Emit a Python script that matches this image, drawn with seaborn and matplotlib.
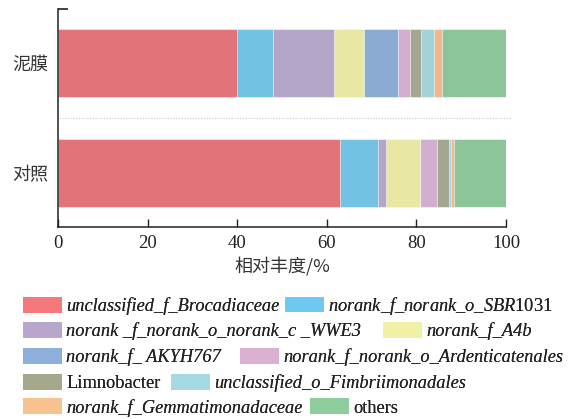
import numpy as np
import pandas as pd
import seaborn as sns
import matplotlib
matplotlib.use("Agg")
import matplotlib.pyplot as plt
from matplotlib.patches import Patch

# ---- data ----
samples = ["泥膜", "对照"]
taxa = [
    "unclassified_f_Brocadiaceae",
    "norank_f_norank_o_SBR1031",
    "norank _f_norank_o_norank_c _WWE3",
    "norank_f_A4b",
    "norank_f_ AKYH767",
    "norank_f_norank_o_Ardenticatenales",
    "Limnobacter",
    "unclassified_o_Fimbriimonadales",
    "norank_f_Gemmatimonadaceae",
    "others",
]
mud_values = [40.0, 7.9, 13.8, 6.5, 7.6, 2.7, 2.6, 2.8, 1.8, 14.3]
ctrl_values = [63.0, 8.4, 1.9, 7.4, 0.0, 3.9, 2.7, 0.45, 0.6, 11.65]
legend_labels = [
    "unclassified_f_Brocadiaceae",
    r"$\mathit{norank\_f\_norank\_o\_SBR}$1031",
    "norank _f_norank_o_norank_c _WWE3",
    "norank_f_A4b",
    "norank_f_ AKYH767",
    "norank_f_norank_o_Ardenticatenales",
    "Limnobacter",
    "unclassified_o_Fimbriimonadales",
    "norank_f_Gemmatimonadaceae",
    "others",
]
label_italic = [True, False, True, True, True, True, False, True, True, False]
xticks = [0, 20, 40, 60, 80, 100]
xlabel = "相对丰度/%"

bar_colors = ["#E27378", "#74C2E3", "#B4A6C8", "#E8E8A2", "#8BAAD2",
              "#D4AECE", "#A4A78F", "#A2D3DB", "#F0B88A", "#8BC598"]
leg_colors = ["#F5787C", "#6DC9EF", "#B8A7CB", "#F0F0A6", "#8DAFDC",
              "#DBB0D3", "#A6A88E", "#A5DAE3", "#F8C290", "#8DCC9B"]

# ---- style ----
sns.set_style("white")
plt.rcParams["font.family"] = ["Liberation Serif", "Noto Sans CJK SC"]
plt.rcParams["mathtext.fontset"] = "custom"
plt.rcParams["mathtext.it"] = "Liberation Serif:italic"
plt.rcParams["mathtext.rm"] = "Liberation Serif"

W, H = 576, 419
fig = plt.figure(figsize=(W / 100, H / 100), dpi=100)
ax = fig.add_axes([58 / W, 1 - 227 / H, (506 - 58) / W, (227 - 9) / H])

df = pd.DataFrame({"sample": samples})
vals = np.array([mud_values, ctrl_values])
cum = np.cumsum(vals, axis=1)
for i in reversed(range(len(taxa))):
    df["cum"] = cum[:, i]
    sns.barplot(data=df, x="cum", y="sample", orient="h", color=bar_colors[i],
                saturation=1, width=0.61, edgecolor="white", linewidth=0.4, ax=ax)

ax.set_xlim(0, 100)
ax.set_ylim(1.49, -0.49)
ax.set_xticks(xticks)
ax.set_xticklabels([str(t) for t in xticks], fontsize=13.5, color="#222222")
ax.set_yticks([0, 1])
ax.set_yticklabels(samples, family="Noto Sans CJK SC", fontsize=13, color="#333333")
ax.set_yticks([-0.49], minor=True)
ax.tick_params(axis="x", bottom=True, direction="in", length=6, width=1,
               color="#222222", pad=6)
ax.tick_params(axis="y", which="major", left=True, length=0, pad=7)
ax.tick_params(axis="y", which="minor", left=True, direction="in", length=7,
               width=1.2, color="#222222")
ax.set_xlabel(xlabel, family="Noto Sans CJK SC", fontsize=13, color="#333333", labelpad=4)
ax.set_ylabel("")
for s in ["top", "right"]:
    ax.spines[s].set_visible(False)
for s in ["left", "bottom"]:
    ax.spines[s].set_color("#222222")
    ax.spines[s].set_linewidth(1.1)

ax.axhline(0.5, xmin=0.003, xmax=1.013, clip_on=False, ls=(0, (1, 1.5)),
           color="#cccccc", lw=0.8)

# ---- legend: each entry placed individually ----
positions = [(23, 306), (285, 306), (23, 331), (383, 331), (23, 357),
             (240, 357), (23, 383), (171, 383), (23, 407.5), (310, 407.5)]
fs = 13.2
for i, (px, py) in enumerate(positions):
    h = Patch(facecolor=leg_colors[i], edgecolor="none")
    leg = fig.legend(handles=[h], labels=[legend_labels[i]], loc="center left",
                     bbox_to_anchor=(px / W, 1 - py / H), frameon=False,
                     borderpad=0, borderaxespad=0, fontsize=fs,
                     handlelength=38.7 / (fs * 100 / 72), handleheight=17 / (fs * 100 / 72),
                     handletextpad=0.25)
    for t in leg.get_texts():
        t.set_color("#222222")
        if label_italic[i]:
            t.set_fontstyle("italic")
    fig.add_artist(leg)

fig.savefig("out.png", dpi=100)
